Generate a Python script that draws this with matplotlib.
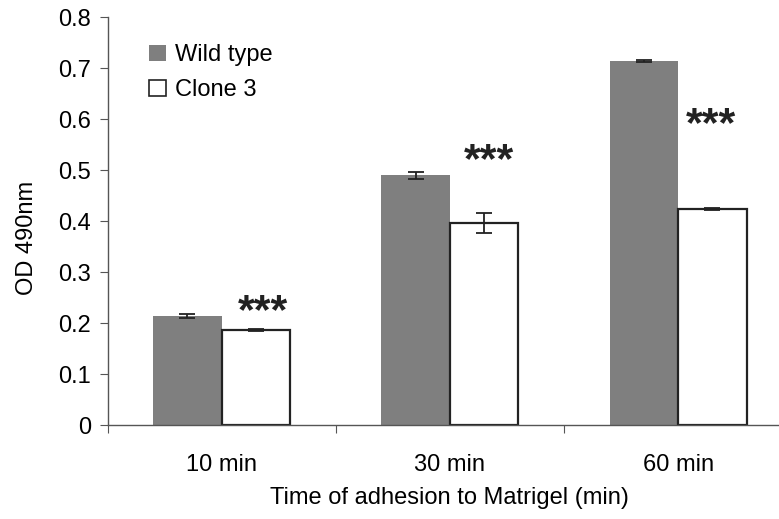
import matplotlib
matplotlib.use("Agg")
import matplotlib.pyplot as plt
import numpy as np
from matplotlib.patches import Patch

plt.rcParams['font.family'] = ['Liberation Sans', 'DejaVu Sans']

categories = ["10 min", "30 min", "60 min"]
wild_type = [0.214, 0.490, 0.714]
wild_err = [0.004, 0.007, 0.002]
clone3 = [0.186, 0.396, 0.423]
clone_err = [0.002, 0.020, 0.002]
stars = ["***", "***", "***"]


def main():
    fig = plt.figure(figsize=(7.79, 5.19), dpi=100)
    ax = fig.add_axes([0.138, 0.181, 0.879, 0.786])
    x = np.arange(len(categories))
    w = 0.3

    ax.bar(x - w / 2, wild_type, w, color="#7f7f7f", edgecolor="none",
           yerr=wild_err, capsize=6, error_kw=dict(ecolor="#222222", elinewidth=1.3, capthick=1.3))
    ax.bar(x + w / 2, clone3, w, color="white", edgecolor="#222222", linewidth=1.6,
           yerr=clone_err, capsize=6, error_kw=dict(ecolor="#222222", elinewidth=1.3, capthick=1.3))

    # significance marks next to clone bars
    star_x = [0.18, 0.17, 0.145]
    star_y = [0.222, 0.518, 0.588]
    for i, s in enumerate(stars):
        ax.text(x[i] + star_x[i], star_y[i], s, ha="center", va="center",
                fontsize=31, fontweight="bold", color="#222222")

    ax.set_xlim(-0.5, 2.5)
    ax.set_ylim(0, 0.8)
    ax.set_yticks(np.arange(0, 0.81, 0.1))
    ax.set_yticklabels(["0"] + ["%.1f" % v for v in np.arange(0.1, 0.81, 0.1)])
    ax.set_xticks([-0.5, 0.5, 1.5, 2.5])
    ax.set_xticklabels([])
    ax.set_xticks(x, minor=True)
    ax.set_xticklabels(categories, minor=True)
    ax.tick_params(axis="x", which="minor", length=0, pad=21, labelsize=17)
    ax.tick_params(axis="x", which="major", length=6, color="#555555", direction="out")
    ax.tick_params(axis="y", length=6, color="#555555", labelsize=17, pad=6)

    for sp in ["top", "right"]:
        ax.spines[sp].set_visible(False)
    for sp in ["left", "bottom"]:
        ax.spines[sp].set_color("#555555")
        ax.spines[sp].set_linewidth(1.0)

    ax.set_ylabel("OD 490nm", fontsize=17)
    ax.yaxis.set_label_coords(-0.102, 0.458)
    ax.set_xlabel("Time of adhesion to Matrigel (min)", fontsize=17, labelpad=8)

    handles = [Patch(facecolor="#7f7f7f", edgecolor="none"),
               Patch(facecolor="white", edgecolor="#222222", linewidth=1.2)]
    ax.legend(handles, ["Wild type", "Clone 3"], loc="upper left",
              bbox_to_anchor=(0.03, 0.985), frameon=False, fontsize=17,
              handlelength=0.7, handleheight=0.7, handletextpad=0.4, labelspacing=0.55)

    fig.savefig("out.png", dpi=100)


if __name__ == '__main__':
    main()
